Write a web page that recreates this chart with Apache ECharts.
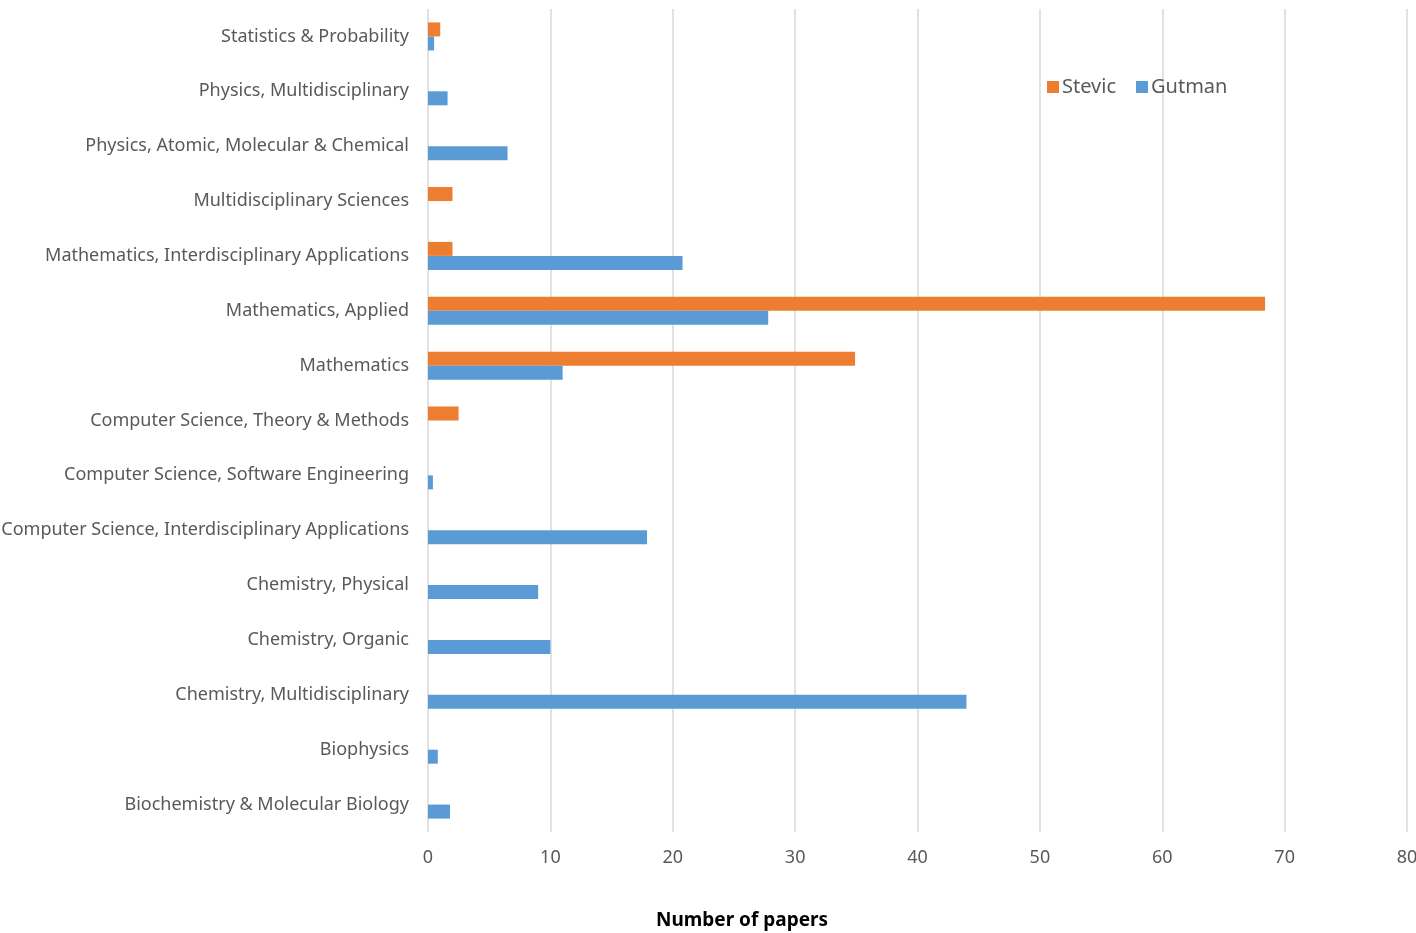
<!DOCTYPE html>
<html>
<head>
<meta charset="utf-8">
<script src="https://cdn.jsdelivr.net/npm/echarts@6/dist/echarts.min.js"></script>
<style>html,body{margin:0;padding:0;background:#fff}#c{width:1416px;height:933px}</style>
</head>
<body>
<div id="c"></div>
<script>
const categories = [
  "Biochemistry & Molecular Biology",
  "Biophysics",
  "Chemistry, Multidisciplinary",
  "Chemistry, Organic",
  "Chemistry, Physical",
  "Computer Science, Interdisciplinary Applications",
  "Computer Science, Software Engineering",
  "Computer Science, Theory & Methods",
  "Mathematics",
  "Mathematics, Applied",
  "Mathematics, Interdisciplinary Applications",
  "Multidisciplinary Sciences",
  "Physics, Atomic, Molecular & Chemical",
  "Physics, Multidisciplinary",
  "Statistics & Probability"
];
const stevic = [null, null, null, null, null, null, null, 2.5, 34.9, 68.4, 2.0, 2.0, null, null, 1.0];
const gutman = [1.8, 0.8, 44.0, 10.0, 9.0, 17.9, 0.4, null, 11.0, 27.8, 20.8, null, 6.5, 1.6, 0.5];
const xTicks = [0, 10, 20, 30, 40, 50, 60, 70, 80];

const FONT = '"Noto Sans", sans-serif';
const chart = echarts.init(document.getElementById('c'), null, {renderer: 'canvas'});
chart.setOption({
  animation: false,
  backgroundColor: '#fff',
  grid: {left: 428, right: 9, top: 9, bottom: 101, containLabel: false, outerBoundsMode: 'none'},
  legend: {
    data: ['Stevic', 'Gutman'],
    left: 1042, top: 72,
    itemWidth: 12, itemHeight: 12, itemGap: 20,
    icon: 'rect',
    textStyle: {fontFamily: FONT, fontSize: 20, color: '#595959', padding: [0, 0, 0, -2]}
  },
  xAxis: {
    type: 'value',
    min: xTicks[0], max: xTicks[xTicks.length - 1], interval: 10,
    axisLine: {show: false}, axisTick: {show: false},
    splitLine: {show: true, lineStyle: {color: '#D9D9D9', width: 1.5}},
    axisLabel: {fontFamily: FONT, fontSize: 18, color: '#595959', margin: 17}
  },
  yAxis: {
    type: 'category',
    data: categories,
    axisLine: {show: false}, axisTick: {show: false},
    axisLabel: {fontFamily: FONT, fontSize: 18, color: '#595959', margin: 19}
  },
  graphic: [{
    type: 'text', left: 656, top: 911,
    style: {text: 'Number of papers', fontFamily: FONT, fontSize: 19, fontWeight: 'bold', fill: '#000'}
  }],
  series: [
    {name: 'Stevic', type: 'bar', data: stevic, barWidth: 14, barGap: '0%',
     itemStyle: {color: '#ED7D31'}},
    {name: 'Gutman', type: 'bar', data: gutman, barWidth: 14, barGap: '0%',
     itemStyle: {color: '#5B9BD5'}}
  ]
});
</script>
</body>
</html>
